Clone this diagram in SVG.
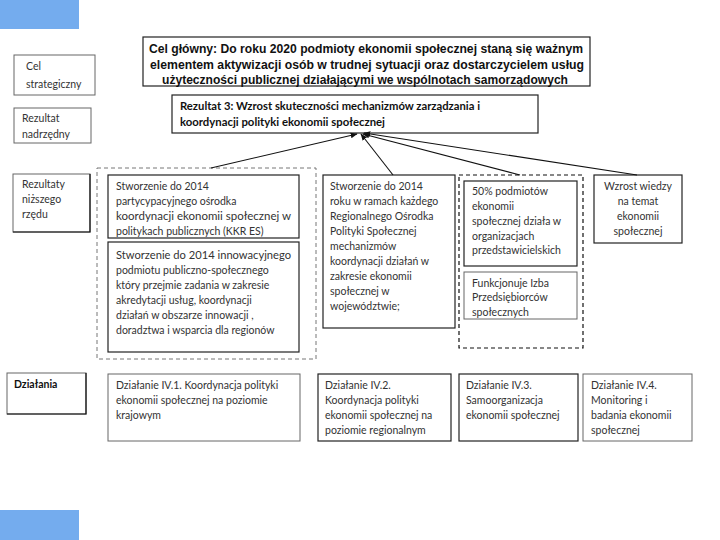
<svg xmlns="http://www.w3.org/2000/svg" width="720" height="540" viewBox="0 0 720 540">
<defs>
<marker id="ah" viewBox="0 0 10 10" refX="9" refY="5" markerWidth="7" markerHeight="7" orient="auto" markerUnits="userSpaceOnUse">
<path d="M0,1 L10,5 L0,9 z" fill="#111"/>
</marker>
</defs>
<style>
.bx{fill:#fff;stroke:#222;stroke-width:1.2}
.bl{fill:#fff;stroke:#666;stroke-width:1}
.dk{fill:#fff;stroke:#111;stroke-width:1.2}
.sh{fill:none;stroke:#111;stroke-width:1.2}
.t{font-family:Lato,"Open Sans",sans-serif;font-size:10.5px;fill:#333}
.tb{font-family:Lato,"Open Sans",sans-serif;font-size:10.5px;fill:#111;font-weight:bold}
.cg{font-family:"Liberation Sans",Arial,sans-serif;font-size:12px;font-weight:bold;fill:#111}
.cn{text-anchor:middle}
.ln{stroke:#111;stroke-width:1.1;fill:none;marker-end:url(#ah)}
</style>
<rect x="0" y="0" width="79" height="29" fill="#74acee"/>
<rect x="0" y="510" width="79" height="30" fill="#74acee"/>

<g id="cel-glowny">
<rect class="bx" x="143" y="37" width="447" height="49"/>
<text class="cg" x="366" y="53" text-anchor="middle" textLength="434" lengthAdjust="spacingAndGlyphs">Cel główny:  Do roku 2020 podmioty ekonomii społecznej staną się ważnym</text>
<text class="cg" x="367" y="69" text-anchor="middle" textLength="434" lengthAdjust="spacingAndGlyphs">elementem aktywizacji osób w trudnej sytuacji oraz dostarczycielem usług</text>
<text class="cg" x="365" y="84" text-anchor="middle" textLength="406" lengthAdjust="spacingAndGlyphs">użyteczności publicznej działającymi we wspólnotach samorządowych</text>
</g>

<g id="cel-strategiczny">
<rect class="bl" x="14" y="55" width="81" height="40"/>
<text class="t" x="26" y="70">Cel</text>
<text class="t" x="26" y="88">strategiczny</text>
</g>

<g id="rezultat-nadrzedny">
<rect class="bl" x="14" y="108" width="77" height="35"/>
<text class="t" x="22" y="122">Rezultat</text>
<text class="t" x="22" y="138">nadrzędny</text>
</g>

<g id="rezultat-3">
<rect class="bx" x="172" y="95" width="366" height="38"/>
<text class="tb" x="180" y="110" textLength="300" lengthAdjust="spacingAndGlyphs">Rezultat  3: Wzrost skuteczności mechanizmów zarządzania i</text>
<text class="tb" x="180" y="126" textLength="205" lengthAdjust="spacingAndGlyphs">koordynacji polityki ekonomii społecznej</text>
</g>

<g id="rezultaty-nizszego">
<rect class="bl" x="13" y="174" width="77" height="58" stroke="#333"/>
<path class="sh" d="M90,174 V232 H13" stroke-width="2"/>
<text class="t" x="22" y="188">Rezultaty</text>
<text class="t" x="22" y="203">niższego</text>
<text class="t" x="22" y="218">rzędu</text>
</g>

<g id="grupa-krajowa">
<rect x="97" y="168" width="219" height="191" fill="none" stroke="#777" stroke-width="1" stroke-dasharray="4,3"/>
</g>

<g id="kkr-es">
<rect class="bx" x="108" y="175" width="191" height="63"/>
<text class="t" x="116" y="190">Stworzenie do 2014</text>
<text class="t" x="116" y="205">partycypacyjnego ośrodka</text>
<text class="t" x="116" y="220" textLength="175" lengthAdjust="spacingAndGlyphs">koordynacji  ekonomii społecznej w</text>
<text class="t" x="116" y="235">politykach publicznych (KKR ES)</text>
</g>

<g id="podmiot-innowacyjny">
<rect class="bx" x="108" y="242" width="191" height="110"/>
<text class="t" x="116" y="259" textLength="175" lengthAdjust="spacingAndGlyphs">Stworzenie do 2014  innowacyjnego</text>
<text class="t" x="116" y="274">podmiotu publiczno-społecznego</text>
<text class="t" x="116" y="289">który przejmie zadania w zakresie</text>
<text class="t" x="116" y="304">akredytacji usług, koordynacji</text>
<text class="t" x="116" y="319">działań w obszarze innowacji ,</text>
<text class="t" x="116" y="334">doradztwa i wsparcia dla regionów</text>
</g>

<g id="osrodek-regionalny">
<rect class="bx" x="323" y="175" width="132" height="153"/>
<text class="t" x="330" y="190">Stworzenie do 2014</text>
<text class="t" x="330" y="205">roku w ramach każdego</text>
<text class="t" x="330" y="220">Regionalnego Ośrodka</text>
<text class="t" x="330" y="235">Polityki Społecznej</text>
<text class="t" x="330" y="250">mechanizmów</text>
<text class="t" x="330" y="265">koordynacji działań w</text>
<text class="t" x="330" y="280">zakresie ekonomii</text>
<text class="t" x="330" y="295">społecznej w</text>
<text class="t" x="330" y="310">województwie;</text>
</g>

<g id="grupa-samoorganizacja">
<rect x="459" y="175" width="124" height="173" fill="none" stroke="#111" stroke-width="1.2" stroke-dasharray="4,3"/>
</g>

<g id="organizacje-przedstawicielskie">
<rect class="bx" x="464" y="181" width="113" height="85"/>
<text class="t" x="472" y="195">50% podmiotów</text>
<text class="t" x="472" y="210">ekonomii</text>
<text class="t" x="472" y="225">społecznej działa w</text>
<text class="t" x="472" y="240">organizacjach</text>
<text class="t" x="472" y="254">przedstawicielskich</text>
</g>

<g id="izba">
<rect class="bl" x="464" y="272" width="113" height="47"/>
<text class="t" x="472" y="287">Funkcjonuje Izba</text>
<text class="t" x="472" y="301">Przedsiębiorców</text>
<text class="t" x="472" y="316">społecznych</text>
</g>

<g id="wzrost-wiedzy">
<rect class="bx" x="594" y="175" width="88" height="68"/>
<text class="t cn" x="638" y="190">Wzrost wiedzy</text>
<text class="t cn" x="638" y="205">na temat</text>
<text class="t cn" x="638" y="220">ekonomii</text>
<text class="t cn" x="638" y="235">społecznej</text>
</g>

<g id="dzialania">
<rect class="bl" x="7" y="373" width="79" height="41" stroke="#333"/>
<path class="sh" d="M86,373 V414 H7" stroke-width="2"/>
<text class="tb" x="14" y="388">Działania</text>
</g>

<g id="dzialanie-iv1">
<rect class="bl" x="108" y="374" width="192" height="67"/>
<text class="t" x="116" y="389">Działanie IV.1. Koordynacja polityki</text>
<text class="t" x="116" y="404">ekonomii społecznej na poziomie</text>
<text class="t" x="116" y="419">krajowym</text>
</g>

<g id="dzialanie-iv2">
<rect class="bx" x="318" y="374" width="133" height="67"/>
<text class="t" x="325" y="389">Działanie IV.2.</text>
<text class="t" x="325" y="404">Koordynacja polityki</text>
<text class="t" x="325" y="419">ekonomii społecznej na</text>
<text class="t" x="325" y="434">poziomie regionalnym</text>
</g>

<g id="dzialanie-iv3">
<rect class="bx" x="459" y="374" width="119" height="67"/>
<text class="t" x="466" y="389">Działanie IV.3.</text>
<text class="t" x="466" y="404">Samoorganizacja</text>
<text class="t" x="466" y="419">ekonomii społecznej</text>
</g>

<g id="dzialanie-iv4">
<rect class="bl" x="583" y="374" width="109" height="67"/>
<text class="t" x="591" y="389">Działanie IV.4.</text>
<text class="t" x="591" y="404">Monitoring i</text>
<text class="t" x="591" y="419">badania ekonomii</text>
<text class="t" x="591" y="434">społecznej</text>
</g>

<g id="connectors">
<line class="ln" x1="211" y1="168" x2="357" y2="134"/>
<line class="ln" x1="393" y1="175" x2="361" y2="134"/>
<line class="ln" x1="520" y1="175" x2="363" y2="134"/>
<line class="ln" x1="637" y1="175" x2="364" y2="133"/>
</g>
</svg>
